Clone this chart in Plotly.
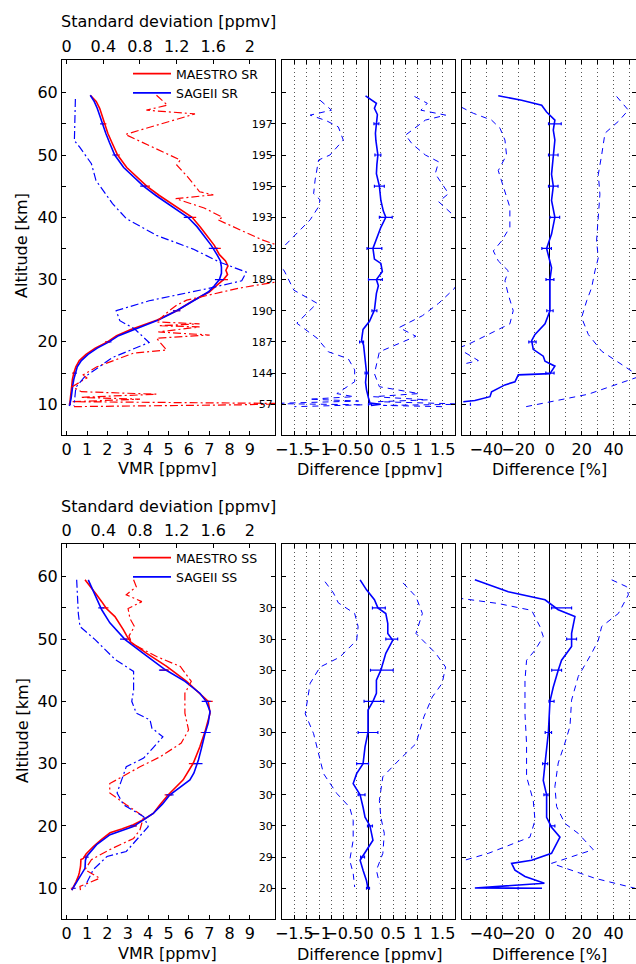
import plotly.graph_objects as go

W, H = 636, 964
FONT = "DejaVu Sans"
RED = "#ff0000"
BLUE = "#0000ff"

# ======================= Sunrise (SR) =======================
sr_mae_alt = [59.6, 58.6, 57.5, 56.5, 55.5, 55.0, 53.5, 52.0, 50.0, 48.0, 46.5, 45.0, 43.5, 42.0, 40.0, 38.5, 37.0, 35.5,
              34.0, 33.0, 32.2, 31.5, 30.8, 30.0, 29.0, 28.0, 26.6, 25.0, 23.5, 22.5, 22.0, 21.0, 20.0, 19.0, 18.0, 17.0,
              16.0, 15.0, 14.0, 13.0, 12.0, 11.0, 10.0]
sr_mae_vmr = [1.16, 1.45, 1.62, 1.72, 1.80, 1.85, 2.02, 2.22, 2.50, 2.95, 3.45, 3.93, 4.55, 5.25, 6.16, 6.55, 6.90, 7.25,
              7.50, 7.80, 7.92, 7.82, 7.90, 7.70, 7.34, 7.00, 6.20, 5.40, 4.45, 3.60, 3.15, 2.45, 2.00, 1.40, 0.95, 0.62,
              0.45, 0.35, 0.28, 0.25, 0.22, 0.20, 0.15]

sr_sage_alt = [59.6, 58.6, 57.5, 56.5, 55.0, 53.5, 52.0, 50.0, 48.0, 46.5, 45.0, 43.5, 42.0, 40.0, 38.5, 37.0, 35.5, 34.0,
               33.0, 32.0, 31.0, 30.0, 29.0, 28.0, 26.6, 25.0, 23.5, 22.5, 22.0, 21.0, 20.0, 19.0, 18.0, 17.0, 16.0, 15.0,
               14.0, 13.0, 12.0, 11.0, 10.0, 9.7]
sr_sage_vmr = [1.16, 1.35, 1.50, 1.60, 1.74, 1.92, 2.10, 2.36, 2.80, 3.28, 3.77, 4.38, 5.05, 5.95, 6.40, 6.75, 7.10, 7.38,
               7.55, 7.60, 7.60, 7.50, 7.25, 6.95, 6.25, 5.40, 4.50, 3.70, 3.25, 2.55, 2.08, 1.50, 1.05, 0.72, 0.52, 0.42,
               0.35, 0.30, 0.27, 0.22, 0.16, 0.13]

sr_mae_std_alt = [59.6, 58.0, 57.2, 56.6, 53.3, 49.2, 48.4, 46.5, 44.1, 43.6, 43.0, 41.5, 40.0, 39.6, 36.4, 35.0, 32.0,
                  29.9, 28.6, 26.7, 25.9, 25.0, 23.2, 22.9, 22.6, 22.4, 21.6, 21.1, 20.6, 18.7, 18.2, 16.0, 14.7, 14.2,
                  12.8, 12.0, 11.6, 11.1, 10.8, 10.4, 10.1, 9.9, 9.6]
sr_mae_std = [0.98, 1.10, 0.87, 1.40, 0.64, 1.24, 1.20, 1.32, 1.45, 1.60, 1.19, 1.50, 1.70, 1.65, 2.13, 2.40, 2.50,
              2.40, 1.87, 1.31, 1.20, 1.12, 0.98, 1.45, 1.00, 1.45, 1.00, 1.56, 0.98, 1.09, 0.73, 0.33, 0.18, 0.22,
              0.06, 0.16, 0.98, 0.15, 0.80, 0.05, 2.50, 1.90, 0.05]

sr_sage_std_alt = [59.0, 55.0, 52.3, 51.3, 48.6, 45.9, 42.2, 39.8, 37.1, 34.9, 32.8, 31.2, 29.8, 28.5, 26.6, 25.0, 23.4,
                   22.1, 19.9, 17.5, 14.3, 12.7, 9.7]
sr_sage_std = [0.095, 0.085, 0.084, 0.14, 0.27, 0.32, 0.50, 0.65, 0.98, 1.38, 1.67, 1.96, 1.91, 1.52, 0.90, 0.54, 0.58,
               0.74, 0.90, 0.50, 0.19, 0.10, 0.08]

sr_diff_alt = [59.5, 58.3, 57.5, 56.5, 55.0, 53.5, 52.3, 50.0, 48.5, 47.0, 45.0, 44.0, 42.7, 41.0, 40.0, 38.4, 37.3, 36.2,
               35.0, 33.3, 32.6, 31.3, 30.0, 29.0, 27.8, 25.1, 23.3, 22.0, 20.3, 19.5, 18.2, 16.5, 15.1, 13.5, 12.3, 11.0,
               10.2, 10.0, 9.8]
sr_diff = [-0.06, 0.16, 0.12, 0.18, 0.16, 0.14, 0.15, 0.19, 0.17, 0.16, 0.22, 0.23, 0.25, 0.30, 0.35, 0.25, 0.20, 0.16,
           0.09, 0.12, 0.25, 0.28, 0.16, 0.20, 0.16, 0.12, 0.02, -0.11, -0.14, -0.10, -0.08, -0.05, -0.04, -0.06, -0.04,
           0.00, 0.03, 0.25, 0.05]

sr_diff_lo_alt = [58.8, 57.2, 56.4, 55.5, 54.5, 52.4, 50.0, 49.2, 46.0, 43.8, 42.8, 41.7, 39.6, 36.4, 35.0, 33.0, 31.5,
                  28.3, 26.2, 23.0, 20.6, 18.4, 17.3, 15.5, 13.6, 11.7, 11.2, 10.8, 10.5, 10.1, 9.9, 9.6]
sr_diff_lo = [-0.98, -0.75, -1.18, -0.85, -0.61, -0.51, -0.78, -1.01, -1.08, -1.11, -0.98, -1.01, -1.18, -1.58, -1.76,
              -2.00, -1.71, -1.51, -1.04, -1.45, -1.04, -0.81, -0.41, -0.28, -0.28, -0.64, -0.30, -1.20, -0.20, -2.00,
              -0.10, -1.50]

sr_diff_hi_alt = [59.4, 58.3, 57.2, 56.4, 55.6, 53.2, 51.8, 50.0, 48.9, 47.0, 43.8, 42.5, 40.6, 37.0, 33.0, 28.5, 26.2,
                  24.2, 22.3, 20.9, 18.4, 14.9, 12.8, 11.7, 11.2, 10.7, 10.4, 10.0, 9.8, 9.6]
sr_diff_hi = [0.93, 1.19, 1.06, 1.56, 1.15, 0.75, 0.88, 1.15, 1.42, 1.35, 1.62, 1.42, 1.68, 2.00, 2.10, 1.73, 1.42,
              1.09, 0.62, 0.96, 0.22, 0.12, 0.22, 1.02, 0.10, 1.20, 0.20, 2.00, 0.30, 1.50]

sr_pct_alt = [59.5, 58.8, 58.0, 56.9, 55.6, 54.0, 52.4, 50.0, 46.9, 45.0, 42.7, 40.0, 37.3, 35.0, 31.9, 30.0, 26.6, 25.0,
              22.9, 21.2, 20.2, 18.8, 17.7, 16.9, 16.1, 14.9, 14.7, 13.6, 13.1, 12.0, 11.2, 10.6, 10.4]
sr_pct = [-32.5, -17.8, -5.2, -2.1, 3.1, 2.1, 3.1, 2.1, 1.0, 2.1, 1.0, 3.1, 1.0, -2.1, 1.0, 0.0, 0.0, 0.0, -3.1, -9.4,
          -11.5, -10.5, -4.2, -3.1, 3.1, 0.0, -19.9, -22.0, -28.3, -36.7, -37.7, -47.2, -54.5]

sr_pct_lo_alt = [58.5, 56.7, 55.6, 54.3, 52.4, 50.0, 47.5, 44.3, 41.6, 38.4, 36.2, 34.6, 33.0, 31.4, 29.8, 27.6, 25.0,
                 22.9, 21.2, 19.6, 18.8, 18.3, 17.0, 15.5]
sr_pct_lo = [-62.0, -48.2, -36.7, -31.4, -28.3, -27.3, -32.5, -28.3, -25.2, -25.2, -30.4, -35.6, -32.5, -26.2, -28.3,
             -26.2, -23.1, -25.2, -38.8, -51.4, -60.0, -53.5, -45.0, -70.0]

sr_pct_hi_alt = [59.4, 57.2, 55.4, 53.5, 50.0, 46.9, 43.7, 40.0, 36.2, 33.5, 31.4, 28.7, 26.6, 23.9, 21.2, 18.5, 15.3,
                 14.6, 11.6, 9.5]
sr_pct_hi = [41.9, 49.3, 43.0, 34.6, 32.5, 30.4, 31.4, 30.4, 29.3, 30.4, 28.3, 26.2, 23.1, 19.9, 24.1, 32.5, 51.4, 58.0,
             24.1, -17.0]

# ======================= Sunset (SS) =======================
ss_mae_alt = [59.5, 58.5, 57.1, 56.0, 54.9, 53.6, 52.5, 51.5, 50.5, 49.5, 47.7, 45.6, 43.2, 41.3, 40.0, 38.1, 36.5, 35.1,
              32.7, 30.1, 27.4, 25.0, 23.5, 22.0, 21.0, 20.2, 19.5, 18.9, 17.8, 16.7, 15.5, 14.8, 14.6, 13.5, 12.5, 11.9,
              11.0, 10.3, 9.7]
ss_mae_vmr = [0.90, 1.15, 1.47, 1.72, 1.95, 2.37, 2.60, 2.78, 2.95, 3.15, 3.93, 4.91, 5.89, 6.54, 6.95, 7.04, 6.92, 6.79,
              6.54, 6.22, 5.72, 4.99, 4.60, 4.25, 3.76, 3.27, 2.70, 2.13, 1.70, 1.31, 0.95, 0.82, 0.70, 0.68, 0.62, 0.57,
              0.45, 0.33, 0.25]

ss_sage_alt = [59.5, 57.1, 54.7, 52.6, 50.4, 49.9, 47.7, 45.1, 43.2, 41.3, 40.0, 38.4, 36.5, 34.8, 32.5, 30.6, 28.5, 27.4,
               25.0, 23.5, 22.0, 21.0, 19.9, 18.6, 17.0, 15.1, 14.5, 13.2, 11.4, 10.5, 9.7]
ss_sage_vmr = [1.06, 1.39, 1.72, 2.12, 2.70, 2.87, 3.76, 4.83, 5.81, 6.54, 6.85, 7.04, 6.95, 6.79, 6.62, 6.47, 6.25, 6.05,
               5.07, 4.70, 4.25, 3.76, 3.27, 2.13, 1.47, 0.98, 0.92, 0.90, 0.57, 0.40, 0.25]

ss_mae_std_alt = [59.5, 58.4, 57.1, 56.0, 54.9, 53.3, 52.0, 50.5, 49.3, 47.2, 45.6, 43.2, 41.3, 38.1, 35.4, 33.3, 31.1,
                  29.5, 26.8, 25.3, 23.4, 21.5, 19.4, 18.0, 16.2, 14.6, 13.0, 11.6, 10.3, 9.7]
ss_mae_std = [0.73, 0.76, 0.65, 0.82, 0.67, 0.69, 0.74, 0.68, 0.71, 0.98, 1.24, 1.36, 1.29, 1.29, 1.33, 1.25, 1.02,
              0.80, 0.47, 0.47, 0.65, 0.84, 0.80, 0.73, 0.47, 0.27, 0.20, 0.36, 0.145, 0.15]

ss_sage_std_alt = [59.5, 54.1, 52.0, 50.4, 49.9, 46.7, 44.8, 41.8, 40.0, 38.1, 37.0, 35.7, 34.3, 32.5, 30.9, 29.5, 27.4,
                   25.3, 23.4, 21.5, 19.9, 18.0, 15.9, 15.1, 13.0, 10.3]
ss_sage_std = [0.109, 0.127, 0.145, 0.27, 0.31, 0.53, 0.73, 0.73, 0.71, 0.76, 0.91, 0.93, 1.05, 0.94, 0.84, 0.65, 0.60,
               0.55, 0.62, 0.84, 0.89, 0.78, 0.65, 0.44, 0.29, 0.20]

ss_diff_alt = [59.5, 57.9, 56.3, 55.0, 54.1, 52.5, 50.9, 49.8, 47.7, 45.0, 43.4, 41.3, 40.0, 38.6, 35.0, 32.7, 30.0, 28.4,
               26.8, 25.0, 23.0, 21.4, 20.0, 17.7, 16.1, 14.5, 12.9, 11.2, 9.9]
ss_diff = [-0.17, -0.04, 0.12, 0.19, 0.35, 0.39, 0.39, 0.49, 0.35, 0.25, 0.16, 0.16, 0.09, -0.01, -0.01, -0.07, -0.11,
           -0.24, -0.31, -0.17, -0.11, -0.07, 0.03, 0.09, -0.04, -0.17, -0.11, -0.04, -0.01]

ss_diff_lo_alt = [59.2, 57.4, 55.8, 54.1, 52.0, 49.8, 47.1, 45.5, 42.9, 38.0, 34.8, 31.6, 28.4, 25.2, 23.0, 20.9, 17.7,
                  14.5, 12.4, 10.2]
ss_diff_lo = [-0.88, -0.71, -0.61, -0.28, -0.21, -0.24, -0.58, -0.98, -1.18, -1.28, -1.11, -1.01, -0.91, -0.64, -0.38,
              -0.31, -0.31, -0.38, -0.31, -0.28]

ss_diff_hi_alt = [59.0, 56.8, 54.1, 50.9, 47.7, 45.5, 42.9, 40.7, 37.5, 33.2, 30.6, 27.9, 24.1, 21.4, 18.8, 15.6, 12.9,
                  10.8]
ss_diff_hi = [0.70, 0.96, 1.09, 0.96, 1.36, 1.56, 1.49, 1.29, 1.12, 0.96, 0.62, 0.29, 0.22, 0.25, 0.32, 0.29, 0.16, 0.22]

ss_pct_alt = [59.5, 57.6, 56.3, 55.5, 54.7, 53.6, 50.9, 48.8, 46.6, 45.0, 42.3, 40.0, 35.0, 30.0, 27.3, 25.0, 21.4, 19.8,
              18.2, 15.6, 14.5, 14.0, 12.9, 11.9, 10.8, 10.05, 10.0]
ss_pct = [-47.2, -26.2, -3.1, 1.0, 5.2, 15.7, 13.6, 13.6, 7.3, 5.2, 2.1, 0.0, -1.0, -3.1, -4.2, -2.1, -2.1, 1.0, 6.3, 1.0,
          -11.5, -24.1, -22.0, -15.7, -3.5, -47.2, -5.0]

ss_pct_lo_alt = [57.0, 56.5, 55.7, 54.6, 52.0, 50.4, 48.2, 46.6, 43.4, 38.0, 33.2, 27.9, 24.1, 20.9, 18.2, 15.6, 14.4,
                 12.9]
ss_pct_lo = [-65.0, -55.5, -32.5, -11.5, -6.3, -4.2, -9.4, -14.7, -15.7, -15.7, -14.7, -14.7, -10.5, -9.4, -12.6, -38.8,
             -55.0, -70.0]

ss_pct_hi_alt = [59.5, 58.4, 57.1, 54.1, 52.0, 49.8, 47.7, 44.0, 40.2, 36.0, 33.3, 30.1, 26.3, 23.1, 20.4, 18.8, 16.2,
                 14.0, 11.6, 10.0]
ss_pct_hi = [38.8, 48.2, 49.3, 43.0, 32.5, 30.4, 26.2, 17.8, 13.6, 12.6, 9.4, 5.2, 3.1, 4.2, 9.4, 17.8, 27.2, 1.0, 28.3,
             53.5]

# ---------------- error bars every 5 km ----------------
eb_alt = [10, 15, 20, 25, 30, 35, 40, 45, 50, 55]
sr_mae_eb = [0.15, 0.35, 2.00, 5.40, 7.70, 7.35, 6.16, 3.93, 2.50, 1.85]
sr_sage_eb = [0.16, 0.42, 2.08, 5.40, 7.50, 7.20, 5.95, 3.77, 2.36, 1.74]
sr_vmr_err = [0.05, 0.08, 0.12, 0.18, 0.22, 0.22, 0.20, 0.16, 0.12, 0.10]
sr_diff_eb = [0.03, -0.04, -0.14, 0.12, 0.14, 0.12, 0.35, 0.22, 0.19, 0.16]
sr_diff_err = [0.03, 0.03, 0.04, 0.05, 0.14, 0.15, 0.13, 0.10, 0.06, 0.05]
sr_pct_eb = [-50.0, 0.0, -11.0, 0.0, 0.0, -2.1, 3.1, 2.1, 2.1, 3.1]
sr_pct_err = [0.0, 2.6, 2.3, 2.0, 2.5, 3.0, 3.0, 3.0, 3.0, 4.0]

ss_mae_eb = [0.30, 0.92, 3.30, 4.99, 6.22, 6.80, 6.95, 4.80, 2.95, 1.90]
ss_sage_eb = [0.35, 0.98, 3.27, 5.07, 6.45, 6.85, 6.85, 4.75, 2.80, 1.70]
ss_vmr_err = [0.10, 0.10, 0.15, 0.18, 0.22, 0.22, 0.22, 0.22, 0.18, 0.15]
ss_diff_eb = [-0.01, -0.12, 0.03, -0.14, -0.12, -0.01, 0.11, 0.27, 0.47, 0.21]
ss_diff_err = [0.03, 0.04, 0.05, 0.07, 0.12, 0.20, 0.20, 0.23, 0.12, 0.13]
ss_pct_eb = [-20.0, -11.5, 1.5, -2.5, -3.0, -1.0, 1.0, 4.2, 13.6, 7.3]
ss_pct_err = [0.0, 0.0, 1.6, 1.3, 1.6, 2.0, 1.6, 3.1, 3.1, 6.3]

# ---------------- axes labels ----------------
alt_ticks = [10, 15, 20, 25, 30, 35, 40, 45, 50, 55, 60]
alt_labels = ["10", "", "20", "", "30", "", "40", "", "50", "", "60"]
sr_counts = ["57", "144", "187", "190", "189", "192", "193", "195", "195", "197", ""]
ss_counts = ["20", "29", "30", "30", "30", "30", "30", "30", "30", "30", ""]
vmr_ticks = [0, 1, 2, 3, 4, 5, 6, 7, 8, 9]
vmr_labels = ["0", "1", "2", "3", "4", "5", "6", "7", "8", "9"]
std_ticks = [0, 0.4, 0.8, 1.2, 1.6, 2.0]
std_labels = ["0", "0.4", "0.8", "1.2", "1.6", "2"]
ppmv_ticks = [-1.5, -1.25, -1.0, -0.75, -0.5, -0.25, 0, 0.25, 0.5, 0.75, 1.0, 1.25, 1.5]
ppmv_labels = ["\u22121.5", "", "\u22121", "", "\u22120.5", "", "0", "", "0.5", "", "1", "", "1.5"]
pct_ticks = [-50, -40, -30, -20, -10, 0, 10, 20, 30, 40, 50]
pct_labels = ["", "\u221240", "", "\u221220", "", "0", "", "20", "", "40", ""]

# ---------------- geometry (pixels) ----------------
P1, P2, P3 = (62, 275), (282, 455), (462, 636)
ROW1, ROW2 = (59.7, 434.7), (543.7, 918.8)
YR = [5.1, 65.3]
VMR_R = [-0.23, 10.23]
STD_R = [VMR_R[0] * 2 / 9, VMR_R[1] * 2 / 9]
PPMV_R = [-1.75, 1.75]
PCT_R = [-55.3, 54.1]


def xdom(p):
    return [p[0] / W, min(p[1] / W, 1.0)]


def ydom(r):
    return [1 - r[1] / H, 1 - r[0] / H]


DASHDOT = "8px,3px,2px,3px"
DASH = "6px,5px"

fig = go.Figure()


def line(x, y, xa, ya, color, width=1.2, dash="solid", name=None, legend=None):
    fig.add_trace(go.Scatter(
        x=x, y=y, xaxis=xa, yaxis=ya, mode="lines",
        line=dict(color=color, width=width, dash=dash),
        name=name, showlegend=name is not None, legend=legend, hoverinfo="skip"))


def ebar(x, y, err, xa, ya, color, cap=0):
    fig.add_trace(go.Scatter(
        x=x, y=y, xaxis=xa, yaxis=ya, mode="markers",
        marker=dict(size=0, opacity=0, color=color),
        error_x=dict(type="data", array=err, color=color, thickness=1.2, width=cap),
        showlegend=False, hoverinfo="skip"))


def add_row(tag, mae_alt, mae_vmr, sage_alt, sage_vmr, mstd_alt, mstd, sstd_alt, sstd,
            d_alt, d, dlo_alt, dlo, dhi_alt, dhi, p_alt, p, plo_alt, plo, phi_alt, phi,
            m_eb, s_eb, v_err, d_eb, d_err, p_eb, p_err, axes, legend):
    xv, xs, ya, xd, yb, xp, yc = axes
    line(mstd, mstd_alt, xs, ya, RED, 1.2, DASHDOT)
    line(sstd, sstd_alt, xs, ya, BLUE, 1.2, DASHDOT)
    line(mae_vmr, mae_alt, xv, ya, RED, 1.6, name="MAESTRO " + tag, legend=legend)
    line(sage_vmr, sage_alt, xv, ya, BLUE, 1.6, name="SAGEII " + tag, legend=legend)
    ebar(m_eb, eb_alt, v_err, xv, ya, RED)
    ebar(s_eb, eb_alt, v_err, xv, ya, BLUE)
    line(dlo, dlo_alt, xd, yb, BLUE, 1.0, DASH)
    line(dhi, dhi_alt, xd, yb, BLUE, 1.0, DASH)
    line(d, d_alt, xd, yb, BLUE, 1.6)
    ebar(d_eb, eb_alt, d_err, xd, yb, BLUE, 1.5)
    line(plo, plo_alt, xp, yc, BLUE, 1.0, DASH)
    line(phi, phi_alt, xp, yc, BLUE, 1.0, DASH)
    line(p, p_alt, xp, yc, BLUE, 1.6)
    ebar(p_eb, eb_alt, p_err, xp, yc, BLUE, 1.5)


add_row("SR", sr_mae_alt, sr_mae_vmr, sr_sage_alt, sr_sage_vmr, sr_mae_std_alt, sr_mae_std,
        sr_sage_std_alt, sr_sage_std, sr_diff_alt, sr_diff, sr_diff_lo_alt, sr_diff_lo,
        sr_diff_hi_alt, sr_diff_hi, sr_pct_alt, sr_pct, sr_pct_lo_alt, sr_pct_lo, sr_pct_hi_alt, sr_pct_hi,
        sr_mae_eb, sr_sage_eb, sr_vmr_err, sr_diff_eb, sr_diff_err, sr_pct_eb, sr_pct_err,
        ("x", "x2", "y", "x3", "y2", "x4", "y3"), "legend")
add_row("SS", ss_mae_alt, ss_mae_vmr, ss_sage_alt, ss_sage_vmr, ss_mae_std_alt, ss_mae_std,
        ss_sage_std_alt, ss_sage_std, ss_diff_alt, ss_diff, ss_diff_lo_alt, ss_diff_lo,
        ss_diff_hi_alt, ss_diff_hi, ss_pct_alt, ss_pct, ss_pct_lo_alt, ss_pct_lo, ss_pct_hi_alt, ss_pct_hi,
        ss_mae_eb, ss_sage_eb, ss_vmr_err, ss_diff_eb, ss_diff_err, ss_pct_eb, ss_pct_err,
        ("x5", "x6", "y4", "x7", "y5", "x8", "y6"), "legend2")

base = dict(showline=True, linecolor="black", linewidth=1, ticks="inside", ticklen=4, tickcolor="black",
            showgrid=False, zeroline=False, tickfont=dict(size=16, color="black"), fixedrange=True,
            tickangle=0)
grid = dict(showgrid=True, gridcolor="#555555", gridwidth=1, griddash="1px,3px")

layout_axes = {}
for row, (xv, xs, ya, xd, yb, xp, yc, counts) in enumerate([
        ("xaxis", "xaxis2", "yaxis", "xaxis3", "yaxis2", "xaxis4", "yaxis3", sr_counts),
        ("xaxis5", "xaxis6", "yaxis4", "xaxis7", "yaxis5", "xaxis8", "yaxis6", ss_counts)]):
    R = ROW1 if row == 0 else ROW2
    yid = lambda s: "y" + s[5:]
    xid = lambda s: "x" + s[5:]
    layout_axes[xv] = dict(base, domain=xdom(P1), range=VMR_R, anchor=yid(ya), tickvals=vmr_ticks,
                           ticktext=vmr_labels)
    layout_axes[xs] = dict(base, range=STD_R, overlaying=xid(xv), side="top", anchor=yid(ya),
                           tickvals=std_ticks, ticktext=std_labels)
    layout_axes[ya] = dict(base, domain=ydom(R), range=YR, anchor=xid(xv), tickvals=alt_ticks,
                           ticktext=alt_labels, mirror="ticks")
    layout_axes[xd] = dict(base, **grid, domain=xdom(P2), range=PPMV_R, anchor=yid(yb), tickvals=ppmv_ticks,
                           ticktext=ppmv_labels, mirror="ticks", zeroline=True, zerolinecolor="black",
                           zerolinewidth=1)
    layout_axes[yb] = dict(base, domain=ydom(R), range=YR, anchor=xid(xd), tickvals=alt_ticks,
                           ticktext=counts, mirror="ticks", tickfont=dict(size=11, color="black"),
                           ticklabelstandoff=6)
    layout_axes[xp] = dict(base, **grid, domain=xdom(P3), range=PCT_R, anchor=yid(yc), tickvals=pct_ticks,
                           ticktext=pct_labels, mirror="ticks", zeroline=True, zerolinecolor="black",
                           zerolinewidth=1)
    layout_axes[yc] = dict(base, domain=ydom(R), range=YR, anchor=xid(xp), tickvals=alt_ticks,
                           showticklabels=False, mirror="ticks")


def ann(text, px, py, size=16, angle=0):
    return dict(text=text, x=px / W, y=1 - py / H, xref="paper", yref="paper", showarrow=False,
                xanchor="center", yanchor="middle", textangle=angle, font=dict(size=size, color="black"))


annotations = []
for off in (0, 485):
    annotations += [
        ann("Standard deviation [ppmv]", 168.5, 21 + off),
        ann("VMR [ppmv]", 167.5, 468 + off),
        ann("Difference [ppmv]", 369, 469 + off),
        ann("Difference [%]", 549, 469 + off),
        ann("Altitude [km]", 22, 246 + off, angle=-90),
    ]

leg = dict(xanchor="left", yanchor="top", bgcolor="rgba(0,0,0,0)", borderwidth=0,
           font=dict(size=12.5, color="black"), itemwidth=38, tracegroupgap=0)

fig.update_layout(
    width=W, height=H,
    margin=dict(l=0, r=0, t=0, b=0, autoexpand=False),
    paper_bgcolor="white", plot_bgcolor="white",
    font=dict(family=FONT, color="black"),
    showlegend=True,
    legend=dict(leg, x=128 / W, y=1 - 59 / H),
    legend2=dict(leg, x=128 / W, y=1 - 543 / H),
    annotations=annotations,
    **layout_axes,
)

fig.write_html("out.html", config=dict(displayModeBar=False, staticPlot=True),
               post_script="document.body.style.margin='0px';document.body.style.overflow='hidden';")
